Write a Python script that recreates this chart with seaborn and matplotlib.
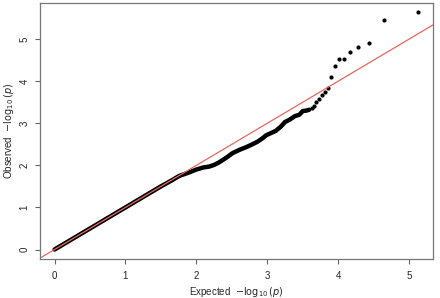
import numpy as np
import pandas as pd
import matplotlib
matplotlib.use("Agg")
import matplotlib.pyplot as plt
import seaborn as sns

# dense part of the QQ curve (reads off the thick black band)
dense_expected = [0, 0.25, 0.5, 0.75, 1.0, 1.25, 1.5, 1.65, 1.76, 1.88, 2.0, 2.1, 2.18,
                  2.25, 2.32, 2.42, 2.51, 2.61, 2.70, 2.79, 2.86, 2.93, 2.98, 3.03, 3.12,
                  3.19, 3.25, 3.31, 3.39, 3.45, 3.50, 3.55, 3.59]
dense_observed = [0, 0.25, 0.5, 0.75, 1.0, 1.25, 1.5, 1.64, 1.75, 1.82, 1.90, 1.95, 1.97,
                  2.01, 2.07, 2.18, 2.29, 2.37, 2.43, 2.50, 2.56, 2.64, 2.71, 2.75, 2.82,
                  2.92, 3.03, 3.08, 3.17, 3.20, 3.29, 3.30, 3.32]

# separate points in the upper tail
tail_expected = [3.63, 3.66, 3.69, 3.73, 3.77, 3.81, 3.85, 3.90, 3.95, 4.01, 4.08,
                 4.17, 4.28, 4.43, 4.65, 5.13]
tail_observed = [3.37, 3.41, 3.51, 3.57, 3.66, 3.74, 3.83, 4.09, 4.35, 4.53, 4.53,
                 4.68, 4.80, 4.90, 5.45, 5.63]

x_ticks = [0, 1, 2, 3, 4, 5]
y_ticks = [0, 1, 2, 3, 4, 5]

dense = pd.DataFrame({"expected": dense_expected, "observed": dense_observed})
tail = pd.DataFrame({"expected": tail_expected, "observed": tail_observed})

sns.set_style("white")
plt.rcParams["font.family"] = ["Liberation Sans", "DejaVu Sans"]
plt.rcParams["mathtext.fontset"] = "dejavusans"

fig = plt.figure(figsize=(4.4, 2.98), dpi=100)
ax = fig.add_axes([0.0909, 0.1309, 0.8932, 0.859])

sns.lineplot(data=dense, x="expected", y="observed", ax=ax, color="black",
             linewidth=3.2, sort=False)
sns.scatterplot(data=tail, x="expected", y="observed", ax=ax, color="black",
                s=9, linewidth=0)

# y = x reference line
ax.plot([-1, 7], [-1, 7], color="#e8675c", linewidth=0.9)

ax.set_xlim(-0.205, 5.335)
ax.set_ylim(-0.225, 5.855)
ax.set_xticks(x_ticks)
ax.set_yticks(y_ticks)
ax.set_yticklabels([str(t) for t in y_ticks], rotation=90, va="center")
ax.tick_params(axis="both", direction="out", length=3.5, width=0.8, color="#666666",
               labelsize=7, bottom=True, left=True)
ax.tick_params(axis="x", pad=5)
ax.tick_params(axis="y", pad=4)
for sp in ax.spines.values():
    sp.set_color("#777777")
    sp.set_linewidth(0.9)

ax.set_xlabel(r"Expected  $-\log_{10}(p)$", fontsize=7, va="center")
ax.set_ylabel(r"Observed  $-\log_{10}(p)$", fontsize=7, va="center")
ax.xaxis.set_label_coords(0.5, -0.128)
ax.yaxis.set_label_coords(-0.079, 0.5)

fig.savefig("out.png", dpi=100)
